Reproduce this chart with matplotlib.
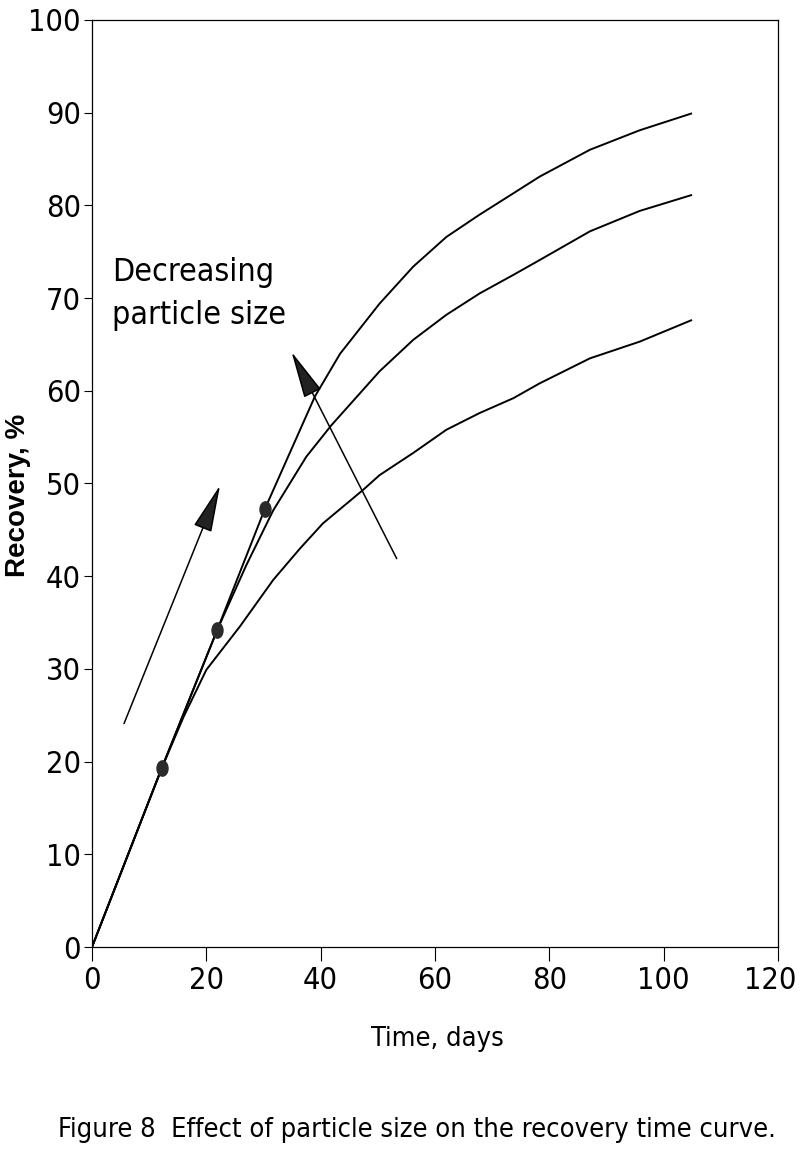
import matplotlib
matplotlib.use("Agg")
import matplotlib.pyplot as plt
from matplotlib import font_manager as fm
from matplotlib.path import Path
from matplotlib.transforms import Affine2D, ScaledTranslation

# recovery curves (time in days, recovery in %)
top_x = [0, 12.2, 21.9, 30.2, 34.6, 39.0, 43.4, 50.3, 56.2, 62.0, 67.8, 73.7, 78.3, 87.1, 95.8, 104.8]
top_y = [0, 19.3, 34.2, 47.2, 53.3, 59.4, 64.0, 69.4, 73.4, 76.6, 79.0, 81.3, 83.1, 86.0, 88.1, 89.9]

mid_x = [0, 12.2, 21.9, 27.0, 31.7, 37.5, 41.9, 50.3, 56.2, 62.0, 67.8, 73.7, 78.3, 87.1, 95.8, 104.8]
mid_y = [0, 19.3, 34.2, 41.2, 47.1, 52.9, 56.3, 62.1, 65.5, 68.2, 70.5, 72.5, 74.1, 77.2, 79.4, 81.1]

low_x = [0, 12.2, 16.0, 20.0, 25.9, 31.7, 36.4, 40.4, 47.4, 50.3, 56.2, 62.0, 67.8, 73.7, 78.3, 87.1, 95.8, 104.8]
low_y = [0, 19.3, 24.8, 29.9, 34.6, 39.6, 43.0, 45.7, 49.3, 50.9, 53.3, 55.8, 57.6, 59.2, 60.8, 63.5, 65.3, 67.6]

# break points where each curve leaves the straight line
dot_x = [12.2, 21.9, 30.2]
dot_y = [19.3, 34.2, 47.2]

# the two "decreasing particle size" arrows (tail, tip)
arrow1 = [(5.6, 24.1), (22.4, 49.8)]
arrow2 = [(53.3, 41.9), (34.9, 64.2)]

x_ticks = [0, 20, 40, 60, 80, 100, 120]
y_ticks = [0, 10, 20, 30, 40, 50, 60, 70, 80, 90, 100]


# the scan uses a narrow Helvetica; look for any condensed sans that is installed
def pick_narrow():
    wanted = ['SansNarrow-Regular', 'NotoSans-ExtraCondensed.', 'NotoSans-Condensed.',
              'DejaVuSansCondensed.', 'Roboto_Condensed-Regular', 'RobotoCondensed-Regular',
              'OpenSans_Condensed-Regular', 'OpenSansCondensed-Regular']
    files = [f.fname for f in fm.fontManager.ttflist]
    for w in wanted:
        for fn in files:
            if w in fn.replace('\\', '/').split('/')[-1]:
                return fn
    return None


narrow_file = pick_narrow()


def nf(size):
    if narrow_file:
        return fm.FontProperties(fname=narrow_file, size=size)
    return fm.FontProperties(family='Liberation Sans', size=size * 0.9)


# dots in the scan are slightly taller than wide
ellipse = Affine2D().scale(0.72, 1.0).transform_path(Path.unit_circle())

fig = plt.figure(figsize=(8, 11.61), dpi=100)
ax = fig.add_axes([0.115, 0.1843, 0.8575, 0.7985])

for xs, ys in [(top_x, top_y), (mid_x, mid_y), (low_x, low_y)]:
    ax.plot(xs, ys, color='black', lw=1.4, solid_joinstyle='round')
ax.plot(dot_x, dot_y, ls='none', marker=ellipse, color='#2b2b2b', ms=11, mec='#2b2b2b')

for (tail, tip) in [arrow1, arrow2]:
    ax.annotate('', xy=tip, xytext=tail,
                arrowprops=dict(arrowstyle='-|>,head_length=3.0,head_width=0.6',
                                mutation_scale=10, lw=1.1, color='black',
                                fc='#222222', shrinkA=0, shrinkB=0))

ax.text(3.5, 74.4, 'Decreasing\nparticle size', fontproperties=nf(23),
        va='top', ha='left', linespacing=1.5)

ax.set_xlim(0, 120)
ax.set_ylim(0, 100)
ax.set_xticks(x_ticks)
ax.set_yticks(y_ticks)
ax.set_xticklabels([str(v) for v in x_ticks], fontproperties=nf(22))
ax.set_yticklabels([str(v) for v in y_ticks], fontproperties=nf(22))
ax.tick_params(axis='x', direction='out', length=10, width=0.8, pad=4)
ax.tick_params(axis='y', direction='out', length=6, width=0.8, pad=2)
for s in ax.spines.values():
    s.set_linewidth(0.9)

# keep "120" inside the page like in the scan
last = ax.get_xticklabels()[-1]
last.set_transform(last.get_transform() + ScaledTranslation(-0.08, 0, fig.dpi_scale_trans))

ax.set_xlabel('Time, days', fontproperties=nf(19.5))
ax.xaxis.set_label_coords(0.503, -0.0852)
ax.set_ylabel('Recovery, %', family=['Liberation Sans', 'DejaVu Sans'],
              fontsize=20, fontweight='bold')
ax.yaxis.set_label_coords(-0.0885, 0.4876)

fig.text(0.5215, 0.0209, 'Figure 8  Effect of particle size on the recovery time curve.',
         fontproperties=nf(19.5), ha='center', va='baseline')

plt.savefig('out.png', dpi=100)
